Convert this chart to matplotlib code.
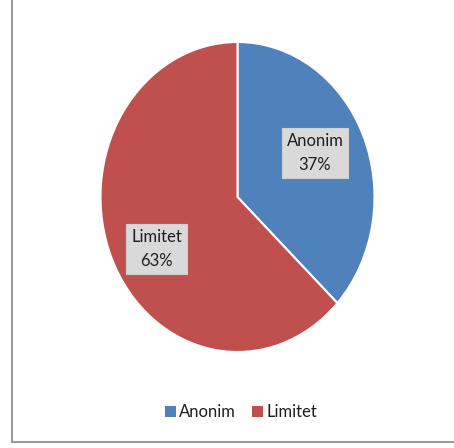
import numpy as np
import matplotlib
matplotlib.use("Agg")
import matplotlib.pyplot as plt
from matplotlib.lines import Line2D
from matplotlib.patches import Patch

labels = ["Anonim", "Limitet"]
shares = [37, 63]
colors = ["#4F81BD", "#C0504D"]

plt.rcParams['font.family'] = ['Lato', 'DejaVu Sans']

W, H = 454, 448
fig = plt.figure(figsize=(W / 100, H / 100), dpi=100)

# pie is slightly taller than wide, so use an auto-aspect axes
ax = fig.add_axes([100.5 / W, 96 / H, 274 / W, 310 / H])
wedges, _ = ax.pie(shares, colors=colors, startangle=90, counterclock=False,
                   wedgeprops=dict(edgecolor="white", linewidth=1.5))
ax.set_aspect("auto")
ax.set_xlim(-1, 1)
ax.set_ylim(-1, 1)
ax.axis("off")

# data label boxes
label_pos = [(0.566, 0.284), (-0.59, -0.335)]
for (x, y), name, val in zip(label_pos, labels, shares):
    ax.text(x, y, "{0}\n{1}%".format(name, val), ha="center", va="center",
            fontsize=12, color="#1E1E1E", linespacing=1.55,
            bbox=dict(boxstyle="square,pad=0.3", facecolor="#D9D9D9",
                      edgecolor="#D0D0D0", linewidth=0.8))

handles = [Patch(facecolor=c, edgecolor="none") for c in colors]
fig.legend(handles, labels, loc="center", bbox_to_anchor=(241 / W, 1 - 412 / H),
           ncol=2, frameon=False, fontsize=12, handlelength=0.65,
           handleheight=0.65, handletextpad=0.2, columnspacing=1.0,
           labelcolor="#1E1E1E")

# chart area border (left and bottom edges)
fig.add_artist(Line2D([11.5 / W, 11.5 / W], [1, 1 - 442 / H], color="#9A9A9A", lw=1.5))
fig.add_artist(Line2D([11.5 / W, 1], [1 - 442 / H, 1 - 442 / H], color="#9A9A9A", lw=1.5))

fig.savefig("out.png", dpi=100)
